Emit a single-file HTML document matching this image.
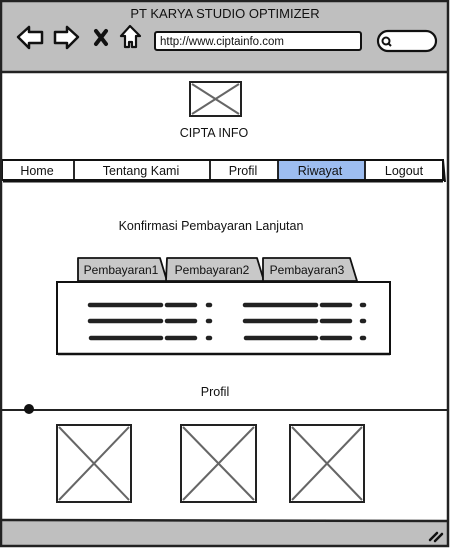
<!DOCTYPE html>
<html><head><meta charset="utf-8"><style>
html,body{margin:0;padding:0;background:#fff;}
svg{display:block;}
text{font-family:"Liberation Sans",sans-serif;fill:#111;}
</style></head><body>
<svg width="450" height="548" viewBox="0 0 450 548" xmlns="http://www.w3.org/2000/svg">
<rect x="0" y="0" width="450" height="548" fill="#fff"/>
<rect x="1" y="1" width="447" height="71" fill="#bfbfbf"/>
<line x1="1" y1="72" x2="448" y2="72" stroke="#222" stroke-width="2.5"/>
<text x="225" y="18" font-size="13" text-anchor="middle">PT KARYA STUDIO OPTIMIZER</text>
<path d="M18 37 L29 27 L29 32 L42 32 L42 43 L29 43 L29 48 Z" fill="#fff" stroke="#111" stroke-width="2.5" stroke-linejoin="round"/>
<path d="M78 37 L67 27 L67 32 L55 32 L55 43 L67 43 L67 48 Z" fill="#fff" stroke="#111" stroke-width="2.5" stroke-linejoin="round"/>
<g stroke="#111" stroke-width="4" stroke-linecap="round">
<line x1="96" y1="31" x2="106" y2="44"/><line x1="106" y1="31" x2="96" y2="44"/>
</g>
<path d="M130 26 L121 36 L125 36 L125 47 L129 47 L129 42 L132 42 L132 47 L136 47 L136 36 L140 36 Z" fill="#fff" stroke="#111" stroke-width="2.2" stroke-linejoin="round"/>
<rect x="155" y="32" width="206" height="18" rx="2" fill="#fff" stroke="#111" stroke-width="2"/>
<text x="160" y="45" font-size="11.5">http://www.ciptainfo.com</text>
<rect x="378" y="31" width="58" height="20" rx="10" fill="#fff" stroke="#111" stroke-width="2.2"/>
<circle cx="386" cy="41" r="3.5" fill="none" stroke="#111" stroke-width="2"/>
<line x1="388" y1="43" x2="391" y2="46" stroke="#111" stroke-width="2"/>
<rect x="190" y="82" width="51" height="34" fill="#fff" stroke="#222" stroke-width="2"/>
<line x1="192" y1="84" x2="239" y2="114" stroke="#666" stroke-width="2"/>
<line x1="239" y1="84" x2="192" y2="114" stroke="#666" stroke-width="2"/>
<text x="214" y="137" font-size="12.5" text-anchor="middle">CIPTA INFO</text>
<rect x="2" y="160" width="441" height="20" fill="#fff" stroke="#111" stroke-width="2"/>
<rect x="278" y="161" width="87" height="18" fill="#9dbdf0"/>
<line x1="3" y1="181" x2="443" y2="181" stroke="#111" stroke-width="3"/>
<line x1="443" y1="160" x2="445" y2="182" stroke="#111" stroke-width="2"/>
<g stroke="#111" stroke-width="1.8">
<line x1="74" y1="160" x2="74" y2="180"/><line x1="210" y1="160" x2="210" y2="180"/>
<line x1="278" y1="160" x2="278" y2="180"/><line x1="365" y1="160" x2="365" y2="180"/>
</g>
<g font-size="12.5" text-anchor="middle">
<text x="37" y="175">Home</text><text x="141" y="175">Tentang Kami</text>
<text x="243" y="175">Profil</text><text x="320" y="175">Riwayat</text><text x="404" y="175">Logout</text>
</g>
<text x="211" y="230" font-size="12.5" text-anchor="middle">Konfirmasi Pembayaran Lanjutan</text>
<g fill="#c8c8c8" stroke="#111" stroke-width="1.8" stroke-linejoin="round">
<path d="M78 281 L78 258 L160 258 L167 281 Z"/>
<path d="M166 281 L167 258 L257 258 L264 281 Z"/>
<path d="M263 281 L263 258 L350 258 L357 281 Z"/>
</g>
<g font-size="12" text-anchor="middle">
<text x="121" y="274">Pembayaran1</text><text x="212" y="274">Pembayaran2</text><text x="307" y="274">Pembayaran3</text>
</g>
<rect x="57" y="282" width="333" height="72" fill="#fff" stroke="#111" stroke-width="2"/>
<line x1="58" y1="354" x2="390" y2="354" stroke="#111" stroke-width="2.5"/>
<g stroke="#222" stroke-width="4.5" stroke-linecap="round">
<line x1="90" y1="305" x2="161" y2="305"/><line x1="167" y1="305" x2="195" y2="305"/><line x1="208" y1="305" x2="210" y2="305"/>
<line x1="90" y1="321" x2="161" y2="321"/><line x1="167" y1="321" x2="195" y2="321"/><line x1="208" y1="321" x2="210" y2="321"/>
<line x1="91" y1="338" x2="161" y2="338"/><line x1="167" y1="338" x2="195" y2="338"/><line x1="208" y1="338" x2="210" y2="338"/>
<line x1="245" y1="305" x2="316" y2="305"/><line x1="322" y1="305" x2="350" y2="305"/><line x1="362" y1="305" x2="364" y2="305"/>
<line x1="245" y1="321" x2="316" y2="321"/><line x1="322" y1="321" x2="350" y2="321"/><line x1="362" y1="321" x2="364" y2="321"/>
<line x1="246" y1="338" x2="316" y2="338"/><line x1="322" y1="338" x2="350" y2="338"/><line x1="362" y1="338" x2="364" y2="338"/>
</g>
<text x="215" y="396" font-size="12.5" text-anchor="middle">Profil</text>
<line x1="1" y1="410" x2="448" y2="410" stroke="#222" stroke-width="2"/>
<circle cx="29" cy="409" r="5" fill="#111"/>
<g fill="#fff" stroke="#222" stroke-width="2">
<rect x="57" y="425" width="74" height="77"/><rect x="181" y="425" width="75" height="77"/><rect x="290" y="425" width="74" height="77"/>
</g>
<g stroke="#666" stroke-width="2">
<line x1="59" y1="427" x2="129" y2="500"/><line x1="129" y1="427" x2="59" y2="500"/>
<line x1="183" y1="427" x2="254" y2="500"/><line x1="254" y1="427" x2="183" y2="500"/>
<line x1="292" y1="427" x2="362" y2="500"/><line x1="362" y1="427" x2="292" y2="500"/>
</g>
<rect x="1" y="520" width="447" height="27" fill="#bfbfbf"/>
<line x1="1" y1="520" x2="448" y2="521" stroke="#222" stroke-width="2.5"/>
<g stroke="#111" stroke-width="2.5" stroke-linecap="round">
<line x1="430" y1="540" x2="437" y2="533"/><line x1="435" y1="541" x2="442" y2="534"/>
</g>
<rect x="1" y="1" width="447" height="545" fill="none" stroke="#222" stroke-width="2.5"/>
</svg>
</body></html>
